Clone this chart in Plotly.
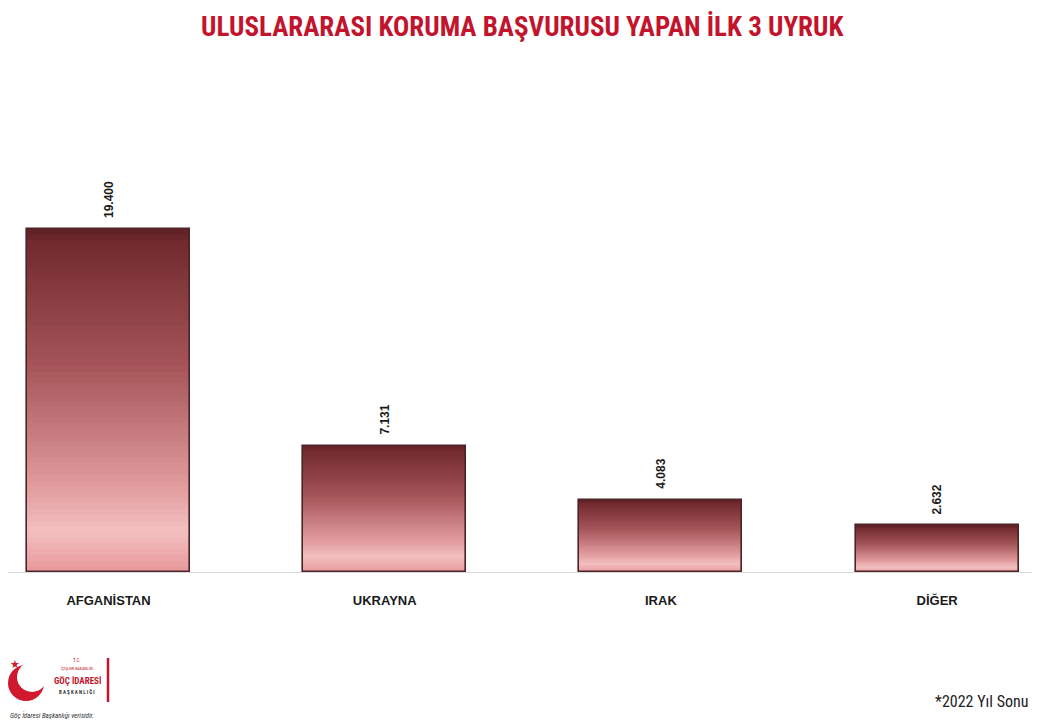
import plotly.graph_objects as go
import numpy as np

categories = ["AFGANİSTAN", "UKRAYNA", "IRAK", "DİĞER"]
values = [19400, 7131, 4083, 2632]
value_labels = ["19.400", "7.131", "4.083", "2.632"]
title_text = "ULUSLARARASI KORUMA BAŞVURUSU YAPAN İLK 3 UYRUK"
footnote = "*2022 Yıl Sonu"

OFF = 8  # page body margin in browser
W, H = 1040 - OFF, 727 - OFF
T_PX, B_PX = 100, 572  # plot area top / bottom in reference pixels
YMAX = (B_PX - T_PX) / 0.01768

COND = "Roboto Condensed, Liberation Sans Narrow, Arial Narrow, sans-serif"

# gradient stops: t=0 top, t=1 bottom
stops_t = [0.0, 0.04, 0.4, 0.75, 0.88, 1.0]
stops_c = [(96, 32, 36), (114, 42, 46), (166, 86, 90), (226, 156, 158), (243, 192, 193), (233, 152, 155)]

def grad(t):
    r = np.interp(t, stops_t, [c[0] for c in stops_c])
    g = np.interp(t, stops_t, [c[1] for c in stops_c])
    b = np.interp(t, stops_t, [c[2] for c in stops_c])
    return f"rgb({int(r)},{int(g)},{int(b)})"

N = 60
x_idx = list(range(len(categories)))
fig = go.Figure()
vals = np.array(values, dtype=float)
for i in range(N):
    t = 1 - (i + 0.5) / N
    fig.add_trace(go.Bar(
        x=x_idx, y=vals / N, base=vals * i / N, width=0.59,
        marker=dict(color=grad(t), line=dict(width=0)),
        hoverinfo="skip", showlegend=False,
    ))
# outline
fig.add_trace(go.Bar(
    x=x_idx, y=vals, base=[0] * len(vals), width=0.59,
    marker=dict(color="rgba(0,0,0,0)", line=dict(color="#4a2426", width=1.6)),
    hoverinfo="skip", showlegend=False,
))

def yp(py):
    return (B_PX - py) / (B_PX - T_PX)

def xp(px):
    return (px - OFF) / W

annotations = []
for i, (v, lab) in enumerate(zip(values, value_labels)):
    annotations.append(dict(
        x=i, y=v, xref="x", yref="y", text=f"<b>{lab}</b>", showarrow=False,
        textangle=-90, yanchor="bottom", xanchor="center", yshift=9,
        font=dict(family="Liberation Sans, Arial, sans-serif", size=12, color="#1a1a1a"),
    ))

annotations.append(dict(
    x=xp(522), y=yp(27), xref="paper", yref="paper", text=f"<b>{title_text}</b>",
    showarrow=False, xanchor="center", yanchor="middle",
    font=dict(family=COND, size=27, color="#c3142d"),
))
annotations.append(dict(
    x=xp(1030), y=yp(701), xref="paper", yref="paper", text=footnote,
    showarrow=False, xanchor="right", yanchor="middle",
    font=dict(family=COND, size=16, color="#222222"),
))
# logo texts
logo_texts = [
    ("T.C.", 77, 660, 5, "#c3142d", False),
    ("İÇİŞLERİ BAKANLIĞI", 77, 668, 4, "#c3142d", False),
    ("<b>GÖÇ İDARESİ</b>", 77, 680, 9, "#c3142d", False),
    ("<b>B A Ş K A N L I Ğ I</b>", 77, 692, 5, "#333333", False),
    ("<i>Göç İdaresi Başkanlığı verisidir.</i>", 8, 715, 7, "#333333", True),
]
for txt, x, y, s, c, left in logo_texts:
    annotations.append(dict(
        x=xp(x), y=yp(y), xref="paper", yref="paper", text=txt, showarrow=False,
        xanchor="left" if left else "center", yanchor="middle",
        font=dict(family=COND, size=s, color=c),
    ))
annotations.append(dict(
    x=xp(15), y=yp(664), xref="paper", yref="paper", text="★", showarrow=False,
    xanchor="center", yanchor="middle", font=dict(family="DejaVu Sans", size=11, color="#d0182f"),
))

shapes = [
    # crescent: red circle with white circle overlapping
    dict(type="circle", xref="paper", yref="paper", x0=xp(8), x1=xp(44), y0=yp(701), y1=yp(665),
         fillcolor="#d0182f", line=dict(width=0), layer="above"),
    dict(type="circle", xref="paper", yref="paper", x0=xp(17), x1=xp(47), y0=yp(692), y1=yp(662),
         fillcolor="white", line=dict(width=0), layer="above"),
    dict(type="line", xref="paper", yref="paper", x0=xp(108), x1=xp(108), y0=yp(658), y1=yp(702),
         line=dict(color="#c3142d", width=2.5), layer="above"),
]

# x axis: plot area spans reference px OFF..1040; category 0 at 108.5px, 276.2px per category
PX_PER = 276.2
x_left = (OFF - 108.5) / PX_PER
x_right = x_left + W / PX_PER

fig.update_layout(
    width=W, height=H,
    margin=dict(l=0, r=0, t=T_PX - OFF, b=H - (B_PX - OFF), pad=0),
    paper_bgcolor="white", plot_bgcolor="white",
    barmode="overlay", bargap=0,
    showlegend=False,
    xaxis=dict(
        range=[x_left, x_right], tickmode="array", tickvals=x_idx,
        ticktext=[f"<b>{c}</b>" for c in categories],
        tickfont=dict(family="Liberation Sans, Arial, sans-serif", size=13, color="#1a1a1a"),
        showgrid=False, zeroline=False, showline=True, linecolor="#d9d9d9", linewidth=1,
        ticks="outside", ticklen=16, tickcolor="rgba(0,0,0,0)", fixedrange=True,
    ),
    yaxis=dict(range=[0, YMAX], visible=False, showgrid=False, zeroline=False, fixedrange=True),
    annotations=annotations, shapes=shapes,
)

fig.write_html("out.html")
